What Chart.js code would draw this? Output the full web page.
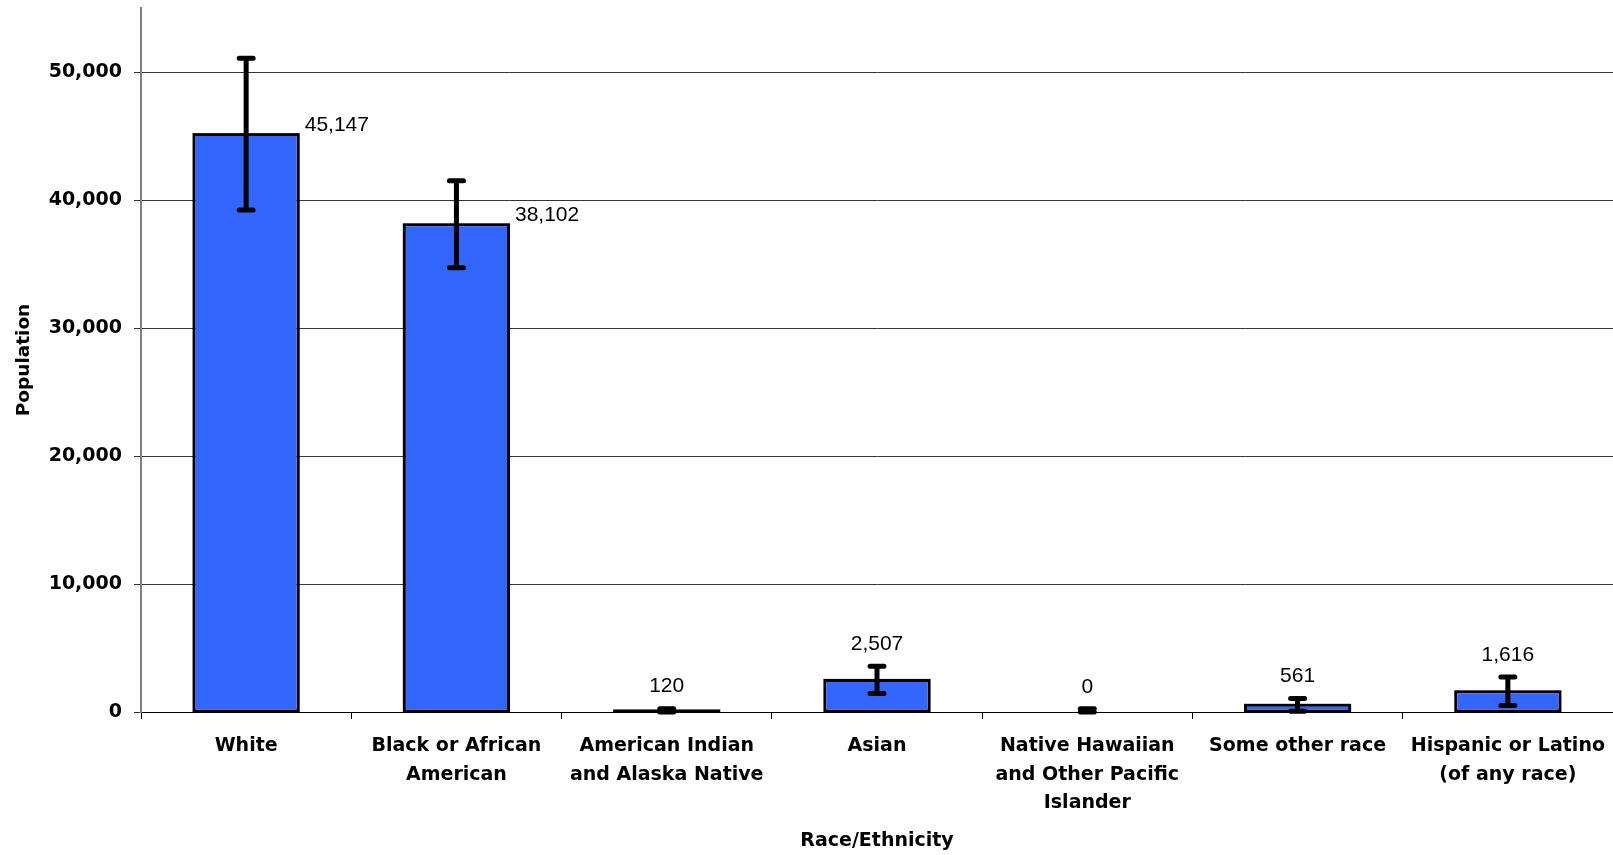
<!DOCTYPE html>
<html>
<head>
<meta charset="utf-8">
<script src="https://cdn.jsdelivr.net/npm/chart.js@4/dist/chart.umd.min.js"></script>
<style>
    html, body { margin: 0; padding: 0; background: #fff; }
    #wrap { width: 1613px; height: 855px; position: relative; }
</style>
</head>
<body>
<div id="wrap"><canvas id="raceChart"></canvas></div>
<script>
// Data
const categories = [
    'White',
    ['Black or African', 'American'],
    ['American Indian', 'and Alaska Native'],
    'Asian',
    ['Native Hawaiian', 'and Other Pacific', 'Islander'],
    'Some other race',
    ['Hispanic or Latino', '(of any race)']
];
const population = [45147, 38102, 120, 2507, 0, 561, 1616];
const marginOfError = [5920, 3400, 140, 1070, 250, 500, 1110];
const yTicks = [0, 10000, 20000, 30000, 40000, 50000];

const boldFont = { family: 'DejaVu Sans', size: 19, weight: 'bold' };
const fmt = v => v.toLocaleString('en-US');

// Bar outlines, error bars + value labels
const errorBarPlugin = {
    id: 'errorBars',
    afterDatasetsDraw(chart) {
        const ctx = chart.ctx;
        const y = chart.scales.y;
        const meta = chart.getDatasetMeta(0);
        ctx.save();
        meta.data.forEach((bar, i) => {
            const v = population[i];
            const e = marginOfError[i];

            // outline (keeps very thin bars visible like the original)
            if (v > 0) {
                ctx.strokeStyle = '#000';
                ctx.lineWidth = 2;
                ctx.strokeRect(bar.x - bar.width / 2, bar.y, bar.width, bar.base - bar.y);
            }

            const yTop = y.getPixelForValue(v + e);
            const yLow = y.getPixelForValue(Math.max(0, v - e));
            ctx.strokeStyle = '#000';
            ctx.lineWidth = 5;
            ctx.lineCap = 'round';
            ctx.beginPath();
            ctx.moveTo(bar.x, yTop);
            ctx.lineTo(bar.x, yLow);
            ctx.moveTo(bar.x - 7, yTop);
            ctx.lineTo(bar.x + 7, yTop);
            ctx.moveTo(bar.x - 7, yLow);
            ctx.lineTo(bar.x + 7, yLow);
            ctx.stroke();

            // value label: big bars get it at the side, small ones above the error bar
            ctx.fillStyle = '#000';
            ctx.font = '21px "Liberation Sans", Arial, sans-serif';
            ctx.textBaseline = 'middle';
            const barTop = y.getPixelForValue(v);
            if (v > 10000) {
                ctx.textAlign = 'left';
                ctx.fillText(fmt(v), bar.x + bar.width / 2 + 6, barTop - 9);
            } else {
                ctx.textAlign = 'center';
                ctx.fillText(fmt(v), bar.x, yTop - 22);
            }
        });
        ctx.restore();
    }
};

new Chart(document.getElementById('raceChart'), {
    type: 'bar',
    data: {
        labels: categories,
        datasets: [{
            data: population,
            backgroundColor: '#3366FF',
            borderColor: '#000',
            borderWidth: 2,
            borderSkipped: false,
            barPercentage: 0.5,
            categoryPercentage: 1.0
        }]
    },
    options: {
        responsive: true,
        maintainAspectRatio: false,
        animation: false,
        layout: { padding: { top: 8, right: 0, left: 0, bottom: 0 } },
        plugins: {
            legend: { display: false },
            tooltip: { enabled: false }
        },
        scales: {
            x: {
                offset: true,
                grid: {
                    offset: true,
                    drawOnChartArea: false,
                    drawTicks: true,
                    tickLength: 7,
                    color: '#000'
                },
                border: { color: '#000', width: 1 },
                ticks: {
                    color: '#000',
                    font: { ...boldFont, lineHeight: 1.5 },
                    padding: 13,
                    maxRotation: 0,
                    autoSkip: false
                },
                title: {
                    display: true,
                    text: 'Race/Ethnicity',
                    color: '#000',
                    font: boldFont,
                    padding: { top: 0, bottom: 3 }
                },
                afterFit(scale) {
                    scale.height = 143;
                    scale.paddingLeft = 0;
                    scale.paddingRight = 0;
                }
            },
            y: {
                min: 0,
                max: 55000,
                afterBuildTicks(scale) {
                    scale.ticks = yTicks.map(v => ({ value: v }));
                },
                grid: {
                    color: '#333',
                    lineWidth: 1,
                    tickLength: 7
                },
                border: { color: '#808080', width: 2 },
                ticks: {
                    color: '#000',
                    font: boldFont,
                    padding: 12,
                    callback: v => fmt(v)
                },
                title: {
                    display: true,
                    text: 'Population',
                    color: '#000',
                    font: { ...boldFont, size: 18.5 },
                    padding: { top: 13, bottom: 0 }
                },
                afterFit(scale) {
                    scale.width = 141;
                    scale.paddingTop = 0;
                    scale.paddingBottom = 0;
                }
            }
        }
    },
    plugins: [errorBarPlugin]
});
</script>
</body>
</html>
